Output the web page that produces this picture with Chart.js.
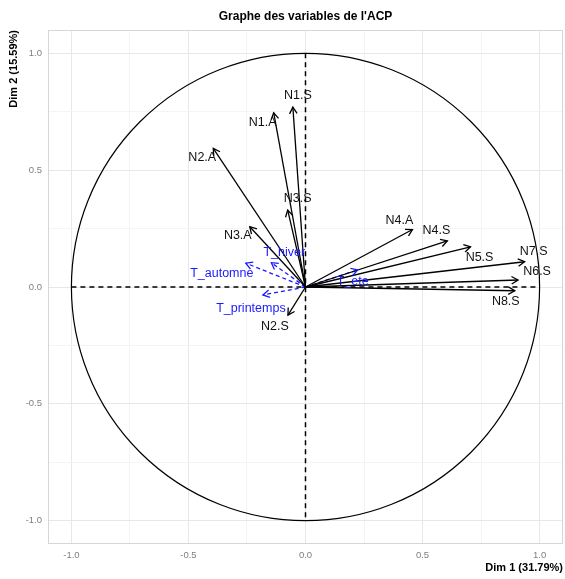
<!DOCTYPE html>
<html><head><meta charset="utf-8">
<script src="https://cdn.jsdelivr.net/npm/chart.js@4/dist/chart.umd.min.js"></script>
<style>html,body{margin:0;padding:0;background:#fff}#wrap{width:565px;height:579px;position:relative}</style>
</head><body><div id="wrap"><canvas id="c"></canvas></div>
<script>
// Active variables (coordinates on Dim 1 / Dim 2)
const activeNames = ['N1.S','N1.A','N2.A','N3.S','N3.A','N2.S','N4.A','N4.S','N5.S','N7.S','N6.S','N8.S'];
const activeDim1  = [-0.054,-0.136,-0.394,-0.076,-0.238,-0.075,0.457,0.606,0.705,0.936,0.908,0.894];
const activeDim2  = [0.770,0.746,0.593,0.329,0.258,-0.120,0.246,0.197,0.172,0.108,0.030,-0.016];
// Supplementary variables
const supNames = ['T_automne','T_hiver','T_printemps','T_ete'];
const supDim1  = [-0.255,-0.146,-0.182,0.223];
const supDim2  = [0.102,0.104,-0.034,0.073];
// Axis ticks
const tickValues = [-1,-0.75,-0.5,-0.25,0,0.25,0.5,0.75,1];
const tickLabels = ['-1.0','','-0.5','','0.0','','0.5','','1.0'];
const titleText = "Graphe des variables de l'ACP";
const xTitle = 'Dim 1 (31.79%)';
const yTitle = 'Dim 2 (15.59%)';

// label placement (pixel offsets from arrow tip, repel-style)
const activeLabelOffsets = [[5,-12],[-11,10],[-11,9],[10,-12],[-12,9],[-13,12],[-13,-9],[-11,-10],[9,11],[9,-10],[19,-8],[-9,11]];
const supLabelOffsets = [[-24,10],[13,-10],[-12,14],[-5,12]];

const FONT = '"Liberation Sans", Arial, Helvetica, sans-serif';
const BLUE = '#1a1aff';

const datasets = [];
activeNames.forEach((n,i)=>datasets.push({label:n,data:[{x:0,y:0},{x:activeDim1[i],y:activeDim2[i]}],
  showLine:true,borderColor:'#000',borderWidth:1.3,pointRadius:0,kind:'active',idx:i}));
supNames.forEach((n,i)=>datasets.push({label:n,data:[{x:0,y:0},{x:supDim1[i],y:supDim2[i]}],
  showLine:true,borderColor:BLUE,borderWidth:1.3,borderDash:[4,3],pointRadius:0,kind:'sup',idx:i}));

function isMajor(v){return Math.abs(v*2-Math.round(v*2))<1e-9;}

const deco = {
  id:'deco',
  beforeDatasetsDraw(chart){
    const {ctx, chartArea:a, scales:{x,y}} = chart;
    ctx.save();
    ctx.strokeStyle='#d6d6d6'; ctx.lineWidth=1;
    ctx.strokeRect(a.left+0.5,a.top+0.5,a.right-a.left-1,a.bottom-a.top-1);
    const cx=x.getPixelForValue(0), cy=y.getPixelForValue(0);
    const rx=x.getPixelForValue(1)-cx, ry=cy-y.getPixelForValue(1);
    ctx.beginPath(); ctx.ellipse(cx,cy,rx,ry,0,0,Math.PI*2);
    ctx.strokeStyle='#000'; ctx.lineWidth=1.2; ctx.stroke();
    ctx.setLineDash([5,4]); ctx.lineWidth=1.5;
    ctx.beginPath();
    ctx.moveTo(x.getPixelForValue(-1),cy); ctx.lineTo(x.getPixelForValue(1),cy);
    ctx.moveTo(cx,y.getPixelForValue(1)); ctx.lineTo(cx,y.getPixelForValue(-1));
    ctx.stroke();
    ctx.restore();
  },
  afterDatasetsDraw(chart){
    const {ctx, scales:{x,y}} = chart;
    const ox=x.getPixelForValue(0), oy=y.getPixelForValue(0);
    ctx.save();
    chart.data.datasets.forEach(ds=>{
      const p=ds.data[1];
      const tx=x.getPixelForValue(p.x), ty=y.getPixelForValue(p.y);
      const ang=Math.atan2(ty-oy,tx-ox);
      const L=7.5, A=Math.PI/6;
      ctx.strokeStyle=ds.borderColor; ctx.lineWidth=1.3; ctx.setLineDash([]);
      ctx.beginPath();
      ctx.moveTo(tx-L*Math.cos(ang-A),ty-L*Math.sin(ang-A));
      ctx.lineTo(tx,ty);
      ctx.lineTo(tx-L*Math.cos(ang+A),ty-L*Math.sin(ang+A));
      ctx.stroke();
      const off = ds.kind==='active'?activeLabelOffsets[ds.idx]:supLabelOffsets[ds.idx];
      ctx.fillStyle = ds.kind==='active'?'#111':BLUE;
      ctx.font='12.5px '+FONT; ctx.textAlign='center'; ctx.textBaseline='middle';
      ctx.fillText(ds.label,tx+off[0],ty+off[1]);
    });
    ctx.restore();
  },
  afterDraw(chart){
    const {ctx, chartArea:a} = chart;
    ctx.save();
    ctx.fillStyle='#000';
    ctx.font='bold 12px '+FONT; ctx.textAlign='center'; ctx.textBaseline='middle';
    ctx.fillText(titleText,(a.left+a.right)/2,17);
    ctx.font='bold 11px '+FONT; ctx.textAlign='right';
    ctx.fillText(xTitle,a.right,568);
    ctx.translate(14,a.top); ctx.rotate(-Math.PI/2);
    ctx.textAlign='right'; ctx.fillText(yTitle,0,0);
    ctx.restore();
  }
};

function axis(){
  return {
    type:'linear',min:-1.1,max:1.1,
    afterBuildTicks(s){s.ticks=tickValues.map(v=>({value:v}));},
    ticks:{callback:(v,i)=>tickLabels[i],color:'#7f7f7f',font:{family:FONT,size:9.5},padding:6,autoSkip:false,maxRotation:0},
    grid:{drawTicks:false,color:c=>isMajor(c.tick.value)?'#e8e8e8':'#f4f4f4',lineWidth:1},
    border:{display:false}
  };
}
const xAx=axis(); xAx.afterFit=s=>{s.height=35;};
const yAx=axis(); yAx.afterFit=s=>{s.width=48;};

new Chart(document.getElementById('c'),{
  type:'scatter',
  data:{datasets},
  options:{
    responsive:true,maintainAspectRatio:false,animation:false,
    layout:{padding:{left:0,right:2,top:30,bottom:0}},
    plugins:{legend:{display:false},tooltip:{enabled:false},title:{display:false}},
    scales:{x:xAx,y:yAx}
  },
  plugins:[deco]
});
</script></body></html>
